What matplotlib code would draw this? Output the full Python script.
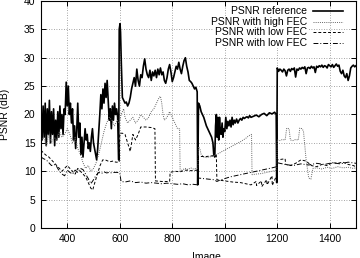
import matplotlib
matplotlib.use("Agg")
import matplotlib.pyplot as plt

plt.rcParams['font.family'] = ['Liberation Sans', 'DejaVu Sans']

# PSNR reference (solid)
ref_x = [300, 304, 308, 312, 316, 320, 324, 328, 332, 336, 340, 344, 348, 352, 356, 360,
         364, 368, 372, 376, 380, 384, 388, 392, 396, 400, 404, 408, 412, 416, 420, 424,
         428, 432, 436, 440, 444, 448, 452, 456, 460, 464, 468, 472, 476, 480, 484, 488,
         492, 496, 500, 504, 508, 512, 516, 520, 524, 528, 532, 536, 540, 544, 548, 552,
         556, 560, 564, 568, 572, 576, 580, 584, 588, 592, 596, 598, 601, 603, 606, 610,
         615, 620, 625, 630, 635, 640, 645, 650, 655, 660, 665, 670, 675, 680, 685, 690,
         695, 700, 705, 710, 715, 720, 725, 730, 735, 740, 745, 750, 755, 760, 765, 770,
         775, 780, 785, 790, 795, 800, 805, 810, 815, 820, 825, 830, 835, 840, 845, 850,
         855, 860, 865, 870, 875, 880, 885, 890, 895, 897, 900, 905, 910, 920, 930, 940,
         950, 955, 958, 962, 965, 968, 971, 974, 977, 980, 983, 986, 990, 993, 996, 1000,
         1004, 1008, 1012, 1016, 1020, 1024, 1028, 1032, 1036, 1040, 1045, 1050, 1055, 1060,
         1065, 1070, 1075, 1080, 1085, 1090, 1095, 1100, 1110, 1120, 1130, 1140, 1150, 1160,
         1170, 1180, 1190, 1196, 1198, 1200, 1205, 1210, 1215, 1220, 1225, 1230, 1235, 1240,
         1245, 1250, 1255, 1260, 1265, 1270, 1275, 1280, 1285, 1290, 1295, 1300, 1305, 1310,
         1315, 1320, 1325, 1330, 1335, 1340, 1345, 1350, 1355, 1360, 1365, 1370, 1375, 1380,
         1385, 1390, 1395, 1400, 1405, 1410, 1415, 1420, 1425, 1430, 1435, 1440, 1445, 1450,
         1455, 1460, 1465, 1470, 1475, 1480, 1485, 1490, 1495, 1500]
ref_y = [20.5, 15.5, 21.5, 16, 22, 14.5, 21, 16.5, 22.5, 15, 20.5, 16.5, 21, 14.5, 19, 15.5,
         20.5, 16, 21.5, 17.5, 20, 16.5, 21, 20, 25.7, 21.5, 25, 20, 22, 18.5, 21, 15.5,
         18, 14, 17, 22, 16, 18.5, 13, 16, 12.5, 15, 17.5, 15.5, 16.5, 14, 15, 13.5,
         16, 17.5, 15, 14, 13, 12, 14, 17, 20, 23.5, 21, 24.5, 22, 25.5, 23, 26,
         22.5, 19, 21, 17.5, 21.5, 19, 22, 20, 21, 19.5, 12, 35, 36, 34.5, 29, 23,
         22.5, 22, 22.2, 21.5, 22, 23, 24.5, 25.5, 26.5, 25, 28, 26, 25, 27, 26.5, 28.5,
         29.8, 28, 27, 26.5, 27.8, 26, 27.5, 26.8, 27.8, 26.5, 28, 27, 28.2, 27, 27.5, 26,
         25.5, 26.5, 28, 28.8, 27.5, 25.8, 26.5, 27.5, 28.5, 28, 29.2, 28, 27.2, 28.5, 29.5, 30,
         28.5, 27.5, 26, 25.8, 25.5, 25, 24.5, 24.8, 24, 7.6, 22, 21.5, 20.5, 19.5, 18, 17,
         16, 15, 13, 12.5, 18, 20, 16, 19.5, 15.5, 19.5, 17, 16.5, 18.5, 16, 17.5, 17,
         19.5, 17.5, 18.8, 18, 19, 17.8, 19.5, 18.2, 19, 18.5, 19.2, 18.5, 19, 19.3,
         19, 19.5, 19.3, 19.5, 19.6, 19.4, 19.8, 19.5, 19.7, 19.9, 19.6, 20, 20.2, 19.8,
         20.3, 20.1, 20.4, 20, 8, 28.2, 27.6, 28, 27.8, 27.5, 28, 27.7, 26.8, 27.8,
         28, 27.6, 28.1, 27.9, 28.2, 26.6, 28, 27.8, 28.2, 28, 28.3, 28.1, 28.4, 27.2,
         28.2, 28.3, 28.1, 28.5, 28.2, 28.4, 27.4, 28.5, 28.3, 28.6, 28.4, 28.7, 28.3, 28.6,
         28.5, 28.2, 28.8, 28.6, 28.4, 28.8, 28.3, 28.6, 28.9, 28.5, 28.7, 27.6, 27.2, 27.8,
         26.8, 26.5, 27.2, 26, 26.8, 28.2, 28.5, 28.7, 28.4, 28.6]

# PSNR with high FEC (dotted)
high_x = [300, 310, 320, 330, 340, 350, 360, 370, 380, 390, 400, 410, 420, 430, 440, 450,
          460, 470, 480, 490, 500, 510, 520, 530, 540, 550, 560, 570, 580, 590, 598, 605,
          615, 620, 630, 640, 650, 660, 670, 680, 690, 700, 710, 720, 730, 740, 750, 755,
          760, 765, 770, 780, 790, 800, 810, 820, 828, 830, 840, 850, 860, 870, 880, 890,
          898, 900, 905, 910, 920, 930, 940, 950, 960, 970, 980, 990, 1000, 1010, 1020, 1030,
          1040, 1050, 1060, 1070, 1080, 1090, 1102, 1104, 1120, 1140, 1160, 1180, 1198, 1200,
          1210, 1220, 1230, 1236, 1245, 1250, 1260, 1270, 1280, 1286, 1295, 1300, 1310, 1320,
          1328, 1336, 1350, 1370, 1390, 1410, 1430, 1450, 1470, 1490, 1500]
high_y = [15, 16, 14.5, 16.5, 15, 16, 15.5, 17, 16, 16.5, 17.5, 16.5, 15, 16, 14, 13,
          11.5, 10.5, 11, 10, 10.5, 11.5, 13, 15, 17, 18.5, 19.5, 19, 18, 19, 18.5, 20,
          21, 19.5, 18.5, 19, 19.5, 18.5, 19, 20, 19.5, 19, 19.5, 20.5, 21, 22, 23, 23.2,
          22, 20, 19, 19.5, 20.5, 19.5, 18.5, 17.5, 17.5, 10, 10.3, 10.5, 10.3, 10.6, 10.4, 10.5,
          10.5, 14.3, 14, 13, 12.5, 12.4, 12.5, 12.6, 12.8, 13, 13.2, 13.5, 13.7, 14, 14.2, 14.5,
          14.7, 15, 15.2, 15.5, 15.8, 16.2, 16.5, 9.4, 9.5, 9.6, 9.8, 10, 10.2, 15.5,
          15.4, 15.6, 15.5, 17.6, 17.5, 15.5, 15.4, 15.6, 15.5, 17.6, 17.5, 17, 12, 8.8,
          8.6, 10.5, 10.6, 10.4, 10.7, 10.5, 10.8, 10.6, 10.7, 10.5, 10.6]

# PSNR with low FEC (dashed)
low1_x = [300, 310, 320, 330, 340, 350, 360, 370, 380, 390, 400, 410, 420, 430, 440, 450,
          460, 470, 480, 490, 497, 505, 515, 525, 535, 545, 555, 565, 575, 585, 598, 600,
          610, 620, 630, 640, 650, 660, 670, 680, 700, 720, 734, 736, 760, 790, 792, 810,
          830, 850, 870, 898, 900, 930, 968, 970, 1000, 1030, 1060, 1100, 1120, 1121, 1140, 1141,
          1160, 1161, 1180, 1181, 1198, 1200, 1230, 1232, 1250, 1270, 1290, 1310, 1330, 1350, 1370, 1390,
          1410, 1430, 1450, 1470, 1490, 1500]
low1_y = [13.7, 13.2, 12.8, 12.5, 12, 11.5, 11, 10.5, 10, 10.5, 11, 10.5, 10, 9.5, 10.5, 10,
          9.5, 9, 8, 7, 6.7, 8, 9.5, 11, 12, 12, 11.8, 11.7, 11.8, 11.6, 11.6, 16.7,
          16.7, 16.5, 15, 13.5, 16.5, 15.5, 16.5, 17.8, 17.8, 17.7, 17.5, 8.3, 8.2, 8.2, 9.8, 10,
          9.9, 10.2, 10.1, 10.2, 12.6, 12.6, 12.8, 8.5, 8.3, 8.1, 8, 7.6, 8.2, 7.5, 8.3, 7.3,
          8.5, 7.6, 9.2, 7.5, 9.3, 12, 12.2, 11.2, 11, 11.4, 12, 11.8, 11, 10.8, 11.2, 11,
          11.5, 11.4, 11.6, 11.2, 11, 10.8]

# PSNR with low FEC (dash-dot)
low2_x = [300, 310, 320, 330, 340, 350, 360, 370, 380, 390, 400, 410, 420, 430, 440, 450,
          460, 470, 480, 490, 500, 510, 520, 530, 540, 550, 560, 570, 580, 590, 600, 605,
          620, 640, 660, 680, 700, 720, 740, 760, 780, 800, 820, 840, 860, 880, 897, 900,
          920, 940, 960, 970, 980, 1000, 1020, 1040, 1060, 1080, 1100, 1120, 1140, 1160, 1180, 1198,
          1200, 1230, 1260, 1290, 1320, 1350, 1380, 1410, 1440, 1470, 1500]
low2_y = [12.5, 12.2, 12, 11.5, 11, 11.2, 10.8, 10, 9.5, 9.2, 10.2, 9.8, 9.5, 10.2, 9.8, 10.5,
          10.3, 9.5, 8.7, 7.8, 8.5, 9.3, 9.8, 9.6, 9.9, 9.7, 9.8, 9.7, 9.8, 9.8, 9.7, 8.2,
          8.1, 8.3, 8, 8.1, 7.9, 8, 7.9, 7.8, 7.9, 7.8, 7.7, 7.8, 7.6, 7.7, 7.6, 8.8,
          8.7, 8.6, 8.5, 8.2, 8.4, 8.7, 9, 9.2, 9.4, 9.6, 9.8, 10, 10.2, 10.4, 10.6, 10.8,
          11.5, 11.2, 11, 11.3, 11.1, 11.4, 11.2, 11.5, 11.3, 11.6, 11.4]

labels = ["PSNR reference", "PSNR with high FEC", "PSNR with low FEC", "PSNR with low FEC"]

fig = plt.figure(figsize=(3.6, 2.58), dpi=100)
ax = fig.add_axes([41 / 360, 1 - 228 / 258, 315 / 360, 227 / 258])

styles = [
    dict(color='black', lw=1.2, linestyle='-'),
    dict(color='#666666', lw=0.7, linestyle=(0, (1, 1.2))),
    dict(color='black', lw=0.7, linestyle=(0, (3, 2))),
    dict(color='black', lw=0.7, linestyle=(0, (5, 2, 1, 2))),
]
series = [(ref_x, ref_y), (high_x, high_y), (low1_x, low1_y), (low2_x, low2_y)]
for (xs, ys), st, lab in zip(series, styles, labels):
    ax.plot(xs, ys, label=lab, **st)

ax.set_xlim(300, 1500)
ax.set_ylim(0, 40)
ax.set_xticks([400, 600, 800, 1000, 1200, 1400])
ax.set_yticks(range(0, 41, 5))
ax.tick_params(direction='in', length=3.5, width=0.7, top=True, right=True,
               labelsize=7.5, pad=4)
ax.grid(True, color='#888888', linestyle=(0, (1, 2)), lw=0.6)
for s in ax.spines.values():
    s.set_linewidth(0.8)

ax.set_xlabel("Image", fontsize=7.5)
ax.xaxis.set_label_coords(0.524, -0.105)
ax.set_ylabel("PSNR (dB)", fontsize=7.5)
ax.yaxis.set_label_coords(-0.098, 0.5)

# gnuplot-style key: right-aligned text, sample to the right
key_rows = [0.956, 0.909, 0.862, 0.816]
for lab, st, ky in zip(labels, styles, key_rows):
    ax.text(0.844, ky, lab, transform=ax.transAxes, ha='right', va='center',
            fontsize=7.5, bbox=dict(facecolor='white', edgecolor='none', pad=0.5))
    ax.plot([0.8635, 0.9587], [ky, ky], transform=ax.transAxes, clip_on=False, **st)

fig.savefig("out.png", dpi=100)
